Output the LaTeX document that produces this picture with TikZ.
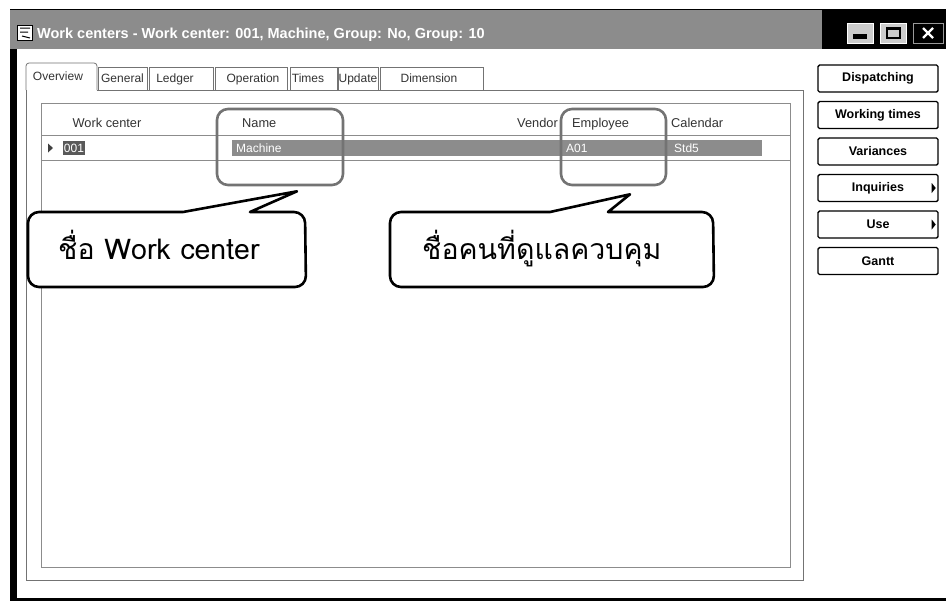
\documentclass[tikz,border=0pt]{standalone}
\usepackage{fontspec}
\setmainfont{Liberation Sans}
\newfontfamily\thaifont[Script=Thai]{Loma}
\usetikzlibrary{calc}

\begin{document}
\begin{tikzpicture}[x=1pt,y=-1pt,
  uitext/.style={font=\fontsize{12}{14}\selectfont, inner sep=0pt, text=black!80},
  headtext/.style={font=\fontsize{12.8}{14}\selectfont, inner sep=0pt, text=black!80},
  tabedge/.style={draw=black!55, line width=0.8pt},
  gridline/.style={draw=black!45, line width=0.7pt},
  celltext/.style={font=\fontsize{12}{14}\selectfont, inner sep=0pt, text=white},
  sidebtn/.style={draw=black, line width=1.4pt, fill=white, rounded corners=1.5pt,
    minimum width=120pt, minimum height=27pt, inner sep=0pt,
    font=\bfseries\fontsize{12.5}{14}\selectfont},
  winbtn/.style={draw=white, line width=1pt, fill=black!20, minimum width=26pt,
    minimum height=20pt, inner sep=0pt},
  markbox/.style={draw=black!55, line width=2.6pt, rounded corners=11pt, inner sep=0pt},
  bubble/.style={draw=black, line width=2.6pt, fill=white, line join=round},
  bubbletext/.style={font=\thaifont\fontsize{28.5}{32}\selectfont, inner sep=0pt, anchor=base west},
]
\useasboundingbox (0,0) rectangle (946,603);
\fill[white] (0,0) rectangle (946,603);

% ---- window frame ----
\fill[black] (10,9) rectangle (17,601);
\fill[black] (10,598) rectangle (946,601);

% ---- title bar ----
\fill[black!45] (10,9) rectangle (822,49);
\fill[black] (822,9) rectangle (946,49);
\draw[black, line width=1.5pt] (10,9.5) -- (946,9.5);
\node[draw=black, fill=white, line width=1pt, minimum size=15pt, inner sep=0pt] (appicon) at (25,33) {};
\draw[black, line width=1pt] (20,28) -- (30,28) (20,32) -- (28,32) (22,36) -- (30,38);
\node[anchor=base west, text=white, inner sep=0pt,
      font=\bfseries\fontsize{14.5}{16}\selectfont] (title) at (37,38)
  {Work centers - Work center: 001, Machine, Group: No, Group: 10};

% window buttons
\node[winbtn] (minbtn) at (860,33) {};
\fill[black] (853,34) rectangle (867,39);
\node[winbtn] (maxbtn) at (893.5,33) {};
\draw[black, line width=1.2pt] (887,28) rectangle (900,38);
\fill[black] (887,27) rectangle (900,30);
\node[winbtn, fill=black, draw=black!40, minimum width=30pt] (closebtn) at (928,33) {};
\draw[white, line width=2.4pt] (923,28) -- (933,38) (933,28) -- (923,38);

% ---- tab page ----
\draw[tabedge] (26,90) rectangle (803,580);
\fill[white] (27,88) rectangle (96.5,91.5);
\draw[tabedge, rounded corners=3pt] (26,90) -- (26,63) -- (97,63) -- (97,90);
\node[uitext, anchor=base] (tabOverview) at (58,80) {Overview};
\foreach \xa/\xb/\xt/\lab/\nm in {
   98/147/122.5/General/tabGeneral,
   149/213/175/Ledger/tabLedger,
   215/287/253/Operation/tabOperation,
   290/337/308/Times/tabTimes,
   338/378/358/Update/tabUpdate,
   380/483/429/Dimension/tabDimension}{
  \draw[tabedge] (\xa,90) -- (\xa,67) -- (\xb,67) -- (\xb,90);
  \node[uitext, anchor=base] (\nm) at (\xt,82) {\lab};
}

% ---- grid ----
\draw[gridline] (41,103) rectangle (790,567);
\draw[gridline] (41,135) -- (790,135);
\draw[gridline] (41,160) -- (790,160);
\node[headtext, anchor=base] (hWork) at (107,127) {Work center};
\node[headtext, anchor=base west] (hName) at (242,127) {Name};
\node[headtext, anchor=base east] (hVendor) at (558,127) {Vendor};
\node[headtext, anchor=base west] (hEmployee) at (572,127) {Employee};
\node[headtext, anchor=base west] (hCalendar) at (671,127) {Calendar};

% selected record
\fill[black!45] (232,140) rectangle (762,156);
\fill[black!75] (48,143.5) -- (53,148) -- (48,152.5) -- cycle;
\node[fill=black!65, celltext, minimum width=22pt, minimum height=14pt] (cellId) at (74,148) {001};
\node[celltext, anchor=base west] (cellName) at (236,152.5) {Machine};
\node[celltext, anchor=base west] (cellEmp) at (566,152.5) {A01};
\node[celltext, anchor=base west] (cellCal) at (674,152.5) {Std5};

% ---- side buttons ----
\foreach \i/\lab/\nm in {0/Dispatching/bDispatch, 1/Working times/bWorking,
    2/Variances/bVariances, 3/Inquiries/bInquiries, 4/Use/bUse, 5/Gantt/bGantt}{
  \node[sidebtn] (\nm) at (878,{78.5+36.5*\i}) {\lab};
}
\foreach \nm in {bInquiries, bUse}{
  \fill[black] ($(\nm.east)+(-7,-5)$) -- ($(\nm.east)+(-3,0)$) -- ($(\nm.east)+(-7,5)$) -- cycle;
}

% ---- highlight frames ----
\node[markbox, minimum width=126pt, minimum height=76pt] (nameFrame) at (280,147) {};
\node[markbox, minimum width=105pt, minimum height=76pt] (empFrame) at (613.5,147) {};

% ---- callouts ----
\coordinate (tipA) at ($(nameFrame.south)+(17,5)$);
\coordinate (tipB) at ($(empFrame.south)+(16.5,8)$);
\draw[bubble] (183,212) -- (tipA) -- (250,212) [rounded corners=11pt]
  -- (305,212) -- (306,287) -- (28,287) -- (28,212) [sharp corners] -- cycle;
\draw[bubble] (550,212) -- (tipB) -- (608,212) [rounded corners=11pt]
  -- (713,212) -- (714,287) -- (390,287) -- (390,212) [sharp corners] -- cycle;
\node[bubbletext] (noteA) at (58,259) {ชื่อ Work center};
\node[bubbletext] (noteB) at (422,259) {ชื่อคนที่ดูแลควบคุม};
\end{tikzpicture}
\end{document}
